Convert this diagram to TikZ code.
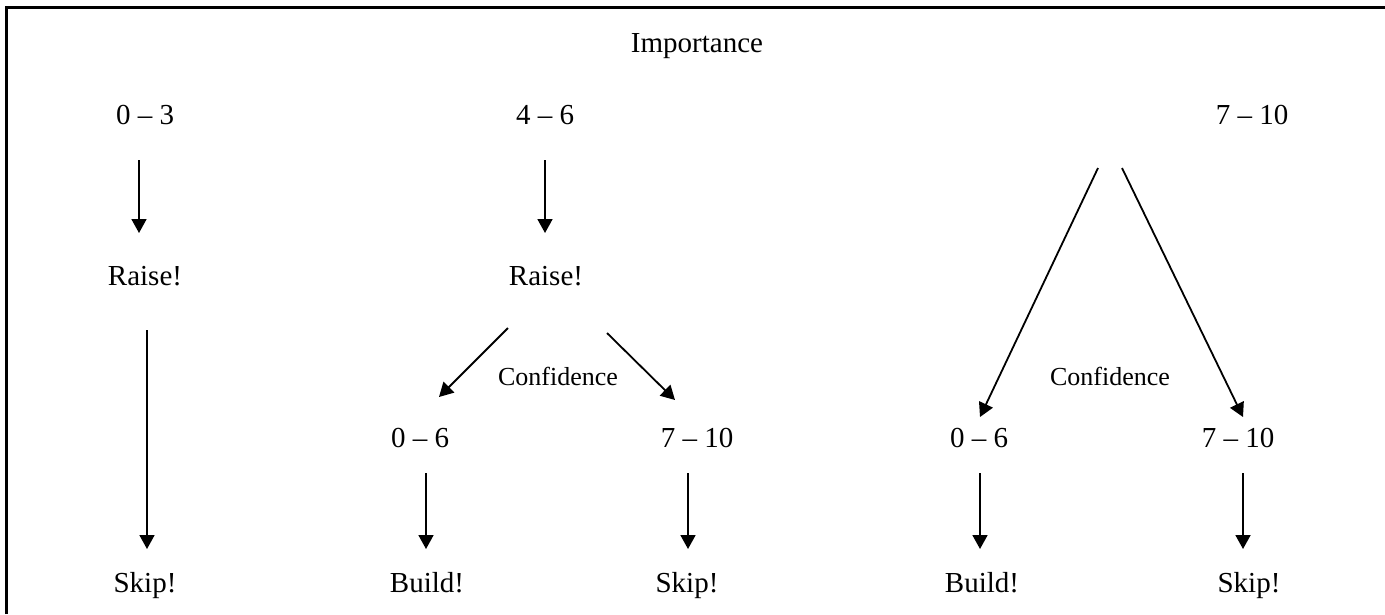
\documentclass[tikz,border=0pt]{standalone}
\usepackage{fontspec}
\setmainfont{Liberation Serif}
\usetikzlibrary{arrows.meta}
\begin{document}
\begin{tikzpicture}[x=1pt,y=-1pt,
  lbl/.style={inner sep=0pt,anchor=base,font=\fontsize{29}{34}\selectfont},
  sml/.style={inner sep=0pt,anchor=base,font=\fontsize{26}{30}\selectfont},
  arr/.style={line width=1.8pt,-{Triangle[width=15pt,length=14pt]}},
  frame/.style={line width=3pt}]
\useasboundingbox (0,0) rectangle (1385,614);
\draw[frame] (6,614) -- (6,7) -- (1385,7);
% texts
\node[lbl] (imp) at (697,52) {Importance};
\node[lbl] (n03) at (145,124) {0 – 3};
\node[lbl] (n46) at (545,124) {4 – 6};
\node[lbl] (n710) at (1252,124) {7 – 10};
\node[lbl] (raise1) at (145,285) {Raise!};
\node[lbl] (raise2) at (546,285) {Raise!};
\node[sml] (confa) at (558,385) {Confidence};
\node[sml] (confb) at (1110,385) {Confidence};
\node[lbl] (c06a) at (420,447) {0 – 6};
\node[lbl] (c710a) at (697,447) {7 – 10};
\node[lbl] (c06b) at (979,447) {0 – 6};
\node[lbl] (c710b) at (1238,447) {7 – 10};
\node[lbl] (skip1) at (145,592) {Skip!};
\node[lbl] (build1) at (427,592) {Build!};
\node[lbl] (skip2) at (687,592) {Skip!};
\node[lbl] (build2) at (982,592) {Build!};
\node[lbl] (skip3) at (1249,592) {Skip!};
% arrows
\draw[arr] ([shift={(-6,36)}]n03.base) -- ([shift={(-6,-52)}]raise1.base);
\draw[arr] ([shift={(0,36)}]n46.base) -- ([shift={(-1,-52)}]raise2.base);
\draw[arr] ([shift={(2,45)}]raise1.base) -- ([shift={(2,-43)}]skip1.base);
\draw[arr] ([shift={(-38,43)}]raise2.base) -- ([shift={(19,-50)}]c06a.base);
\draw[arr] ([shift={(61,48)}]raise2.base) -- ([shift={(-22,-47)}]c710a.base);
\draw[arr] ([shift={(-154,44)}]n710.base) -- ([shift={(1,-30)}]c06b.base);
\draw[arr] ([shift={(-130,44)}]n710.base) -- ([shift={(5,-30)}]c710b.base);
\draw[arr] ([shift={(6,26)}]c06a.base) -- ([shift={(-1,-43)}]build1.base);
\draw[arr] ([shift={(-9,26)}]c710a.base) -- ([shift={(1,-43)}]skip2.base);
\draw[arr] ([shift={(1,26)}]c06b.base) -- ([shift={(-2,-43)}]build2.base);
\draw[arr] ([shift={(5,26)}]c710b.base) -- ([shift={(-6,-43)}]skip3.base);
\end{tikzpicture}
\end{document}
